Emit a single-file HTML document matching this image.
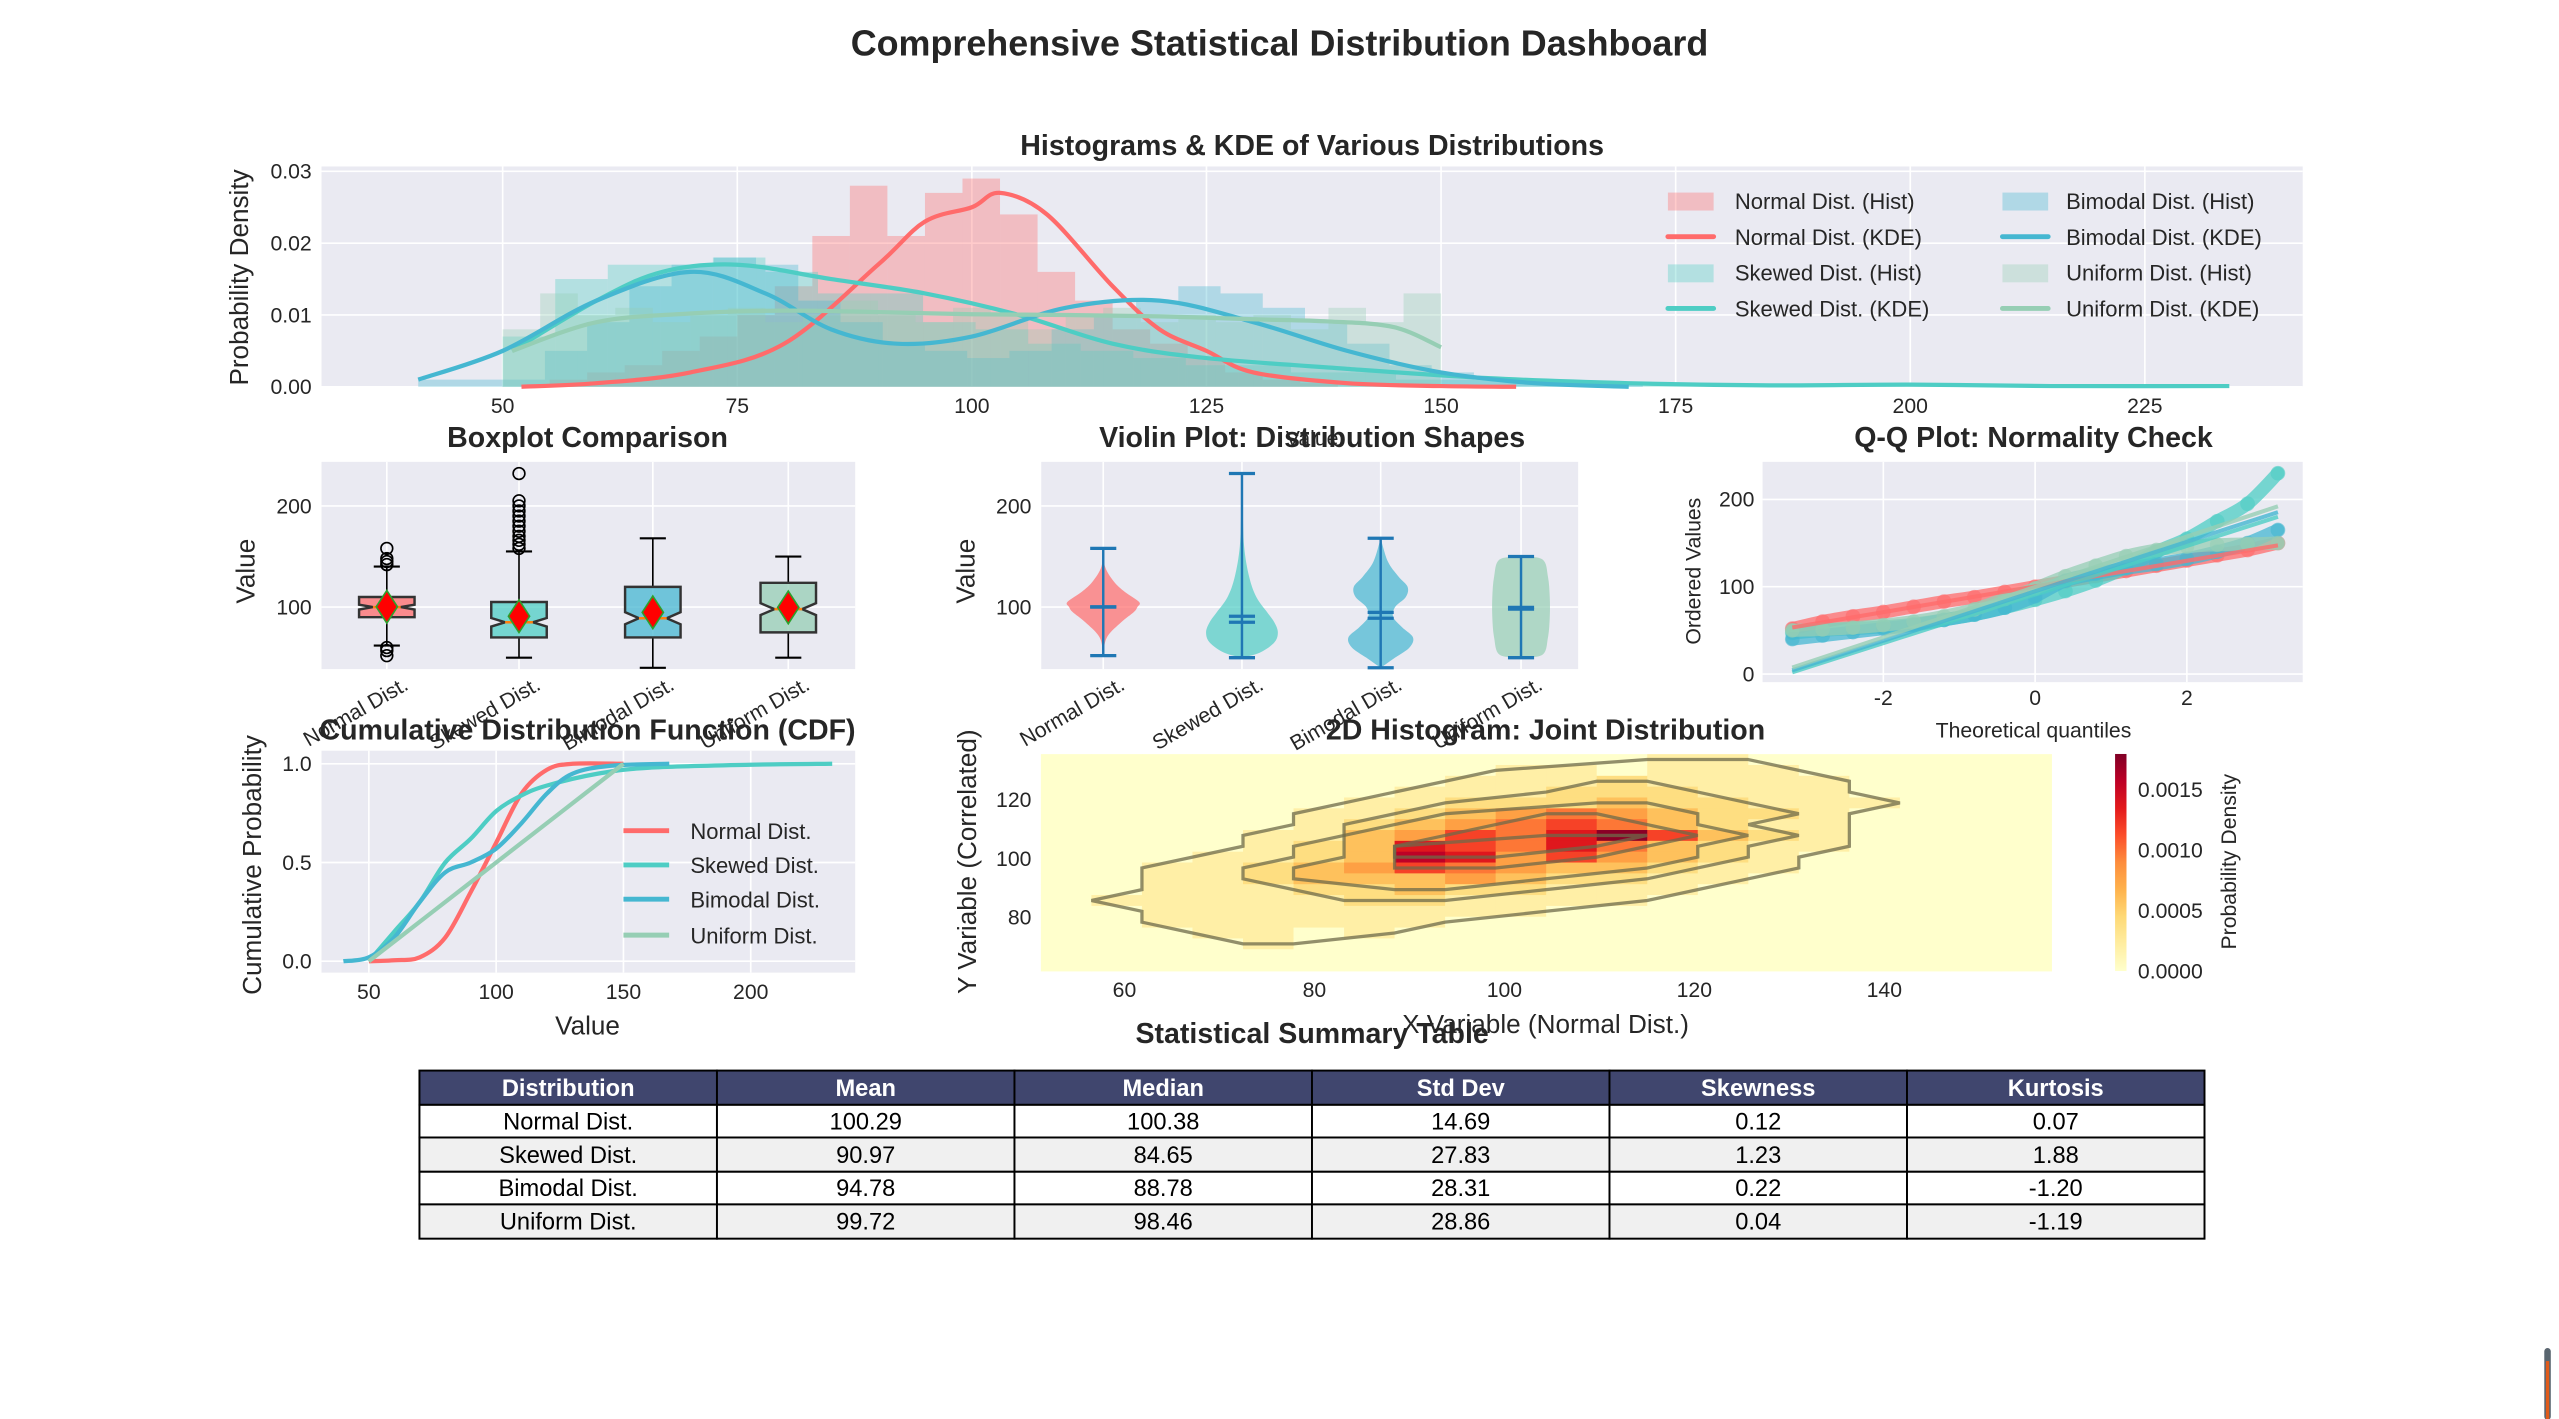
<!DOCTYPE html>
<html><head><meta charset="utf-8">
<style>
html,body{margin:0;padding:0;background:#fff;}
svg{display:block;font-family:"Liberation Sans",Arial,sans-serif;}
.t{font-size:13px;fill:#262626;}
.ti{font-size:17.5px;font-weight:bold;fill:#262626;}
.al{font-size:16px;fill:#262626;}
.lg{font-size:13.5px;fill:#262626;}
.tb{font-size:14.5px;fill:#000;}
</style></head>
<body>
<svg id="root" width="2559" height="1419" viewBox="0 0 1568 869.5" xmlns="http://www.w3.org/2000/svg">
<text x="784" y="34" text-anchor="middle" style="font-size:22px;font-weight:bold;fill:#262626">Comprehensive Statistical Distribution Dashboard</text>
<g id="g-top"></g>
<g id="g-box"></g>
<g id="g-vio"></g>
<g id="g-qq"></g>
<g id="g-cdf"></g>
<g id="g-heat"></g>
<g id="g-table"></g>
<rect x="1559" y="826" width="4" height="44" rx="2" fill="#5a6670"/>
<rect x="1560" y="834" width="2" height="36" fill="#e05a1a"/>
</svg>
<script>
// ---------- DATA ----------
const names = ["Normal Dist.","Skewed Dist.","Bimodal Dist.","Uniform Dist."];
const colors = ["#FF6B6B","#4ECDC4","#45B7D1","#96CEB4"];
const histStart = [55, 50, 41, 50];
const histWidth = [4, 5.6, 4.5, 4];
const histNormal = [0.001,0.002,0.003,0.005,0.007,0.010,0.014,0.021,0.028,0.021,0.027,0.029,0.024,0.016,0.012,0.008,0.006,0.004,0.002,0.001,0.0005];
const histSkewed = [0.007,0.015,0.017,0.017,0.018,0.016,0.013,0.013,0.009,0.008,0.006,0.005,0.004,0.003,0.003,0.002,0.002,0.001,0.001,0.0008,0.0005,0.0005,0.0003,0.0003,0.0002,0.0002,0.0001,0.0001,0.0001,0.0001,0.0001,0.0001];
const histBimodal = [0.001,0.001,0.001,0.005,0.009,0.014,0.017,0.018,0.017,0.012,0.009,0.006,0.005,0.004,0.005,0.008,0.010,0.012,0.014,0.013,0.011,0.009,0.006,0.003,0.002,0.001,0.0005,0.0005,0.0003];
const histUniform = [0.008,0.013,0.010,0.011,0.009,0.010,0.011,0.009,0.010,0.012,0.010,0.009,0.011,0.010,0.008,0.010,0.011,0.009,0.010,0.009,0.010,0.008,0.011,0.009,0.013];
const kdeNormalX = [52,60,70,80,90,95,100,103,108,115,120,125,130,140,150,158];
const kdeNormalY = [0,0.0005,0.002,0.006,0.017,0.023,0.025,0.027,0.024,0.014,0.008,0.005,0.002,0.0005,0.0001,0];
const kdeSkewedX = [51,60,67,75,85,95,105,115,125,140,155,170,185,200,215,234];
const kdeSkewedY = [0.005,0.012,0.016,0.017,0.015,0.013,0.010,0.006,0.004,0.0025,0.0012,0.0005,0.0002,0.0003,0.0001,0.0001];
const kdeBimodalX = [41,50,60,70,78,85,92,100,110,120,130,140,150,160,170];
const kdeBimodalY = [0.001,0.005,0.012,0.016,0.013,0.008,0.006,0.007,0.011,0.012,0.009,0.005,0.002,0.0005,0];
const kdeUniformX = [51,60,70,80,90,100,110,120,130,138,145,150];
const kdeUniformY = [0.005,0.009,0.0102,0.0106,0.0104,0.0101,0.0100,0.0098,0.0094,0.0091,0.0083,0.0055];
const boxLo = [62, 50, 40, 50];
const boxQ1 = [90, 70, 70, 75];
const boxMed = [100, 85, 89, 98];
const boxQ3 = [110, 105, 120, 124];
const boxHi = [140, 155, 168, 150];
const boxMean = [100.3, 91.0, 94.8, 99.7];
const outNormal = [52, 57, 60, 142, 145, 148, 158];
const outSkewed = [158,162,166,170,175,180,185,190,195,200,205,232];
const vioNormalV = [52,70,85,95,100,105,115,125,140,158];
const vioNormalW = [0,0.1,0.5,0.85,0.95,1,0.6,0.3,0.05,0];
const vioSkewedV = [50,55,65,75,85,95,110,130,160,200,232];
const vioSkewedW = [0,0.5,0.9,1,0.9,0.7,0.4,0.2,0.06,0.02,0];
const vioBimodalV = [40,50,60,70,80,90,100,110,120,130,145,168];
const vioBimodalW = [0,0.4,0.8,0.9,0.6,0.35,0.4,0.7,0.75,0.5,0.2,0];
const vioUniformV = [50,53,70,90,110,130,147,150];
const vioUniformW = [0,0.6,0.75,0.8,0.8,0.75,0.6,0];
const qqTheo = [-3.2,-2.8,-2.4,-2,-1.6,-1.2,-0.8,-0.4,0,0.4,0.8,1.2,1.6,2,2.4,2.8,3.2];
const qqNormal = [52,60,66,71,77,83,88,94,100,106,112,118,124,130,136,142,150];
const qqSkewed = [47,50,52,54,57,62,68,76,85,95,107,122,140,155,175,195,230];
const qqBimodal = [40,44,48,52,56,62,68,76,89,107,115,121,126,132,140,150,165];
const qqUniform = [50,51,53,56,60,66,74,86,98,112,124,135,142,146,148,149,150];
const cdfNormalX = [50,60,70,80,90,100,110,120,130,150];
const cdfNormalP = [0,0.005,0.02,0.12,0.35,0.6,0.85,0.97,1,1];
const cdfSkewedX = [50,60,70,80,90,100,110,120,140,160,200,232];
const cdfSkewedP = [0,0.15,0.3,0.5,0.62,0.76,0.84,0.89,0.95,0.98,0.995,1];
const cdfBimodalX = [40,50,60,70,80,90,100,110,120,130,145,168];
const cdfBimodalP = [0,0.02,0.12,0.3,0.45,0.5,0.57,0.7,0.85,0.95,0.99,1];
const cdfUniformX = [50,75,100,125,150];
const cdfUniformP = [0,0.25,0.5,0.75,1];
const heatX0 = 51.2, heatXStep = 5.32, heatY0 = 135.5, heatYStep = 3.69;
const heatMax = 0.0018;
const heatCounts = [
[0,0,0,0,0,0,0,0,0,0,0,0,1,1,0,0,0,0,0,0],
[0,0,0,0,0,0,0,0,0,1,1,0,1,1,1,0,0,0,0,0],
[0,0,0,0,0,0,0,0,1,1,1,2,1,1,1,1,0,0,0,0],
[0,0,0,0,0,0,0,1,1,1,2,2,2,1,1,1,0,0,0,0],
[0,0,0,0,0,0,1,1,2,2,2,3,2,2,1,1,1,0,0,0],
[0,0,0,0,0,1,1,2,3,4,5,4,3,2,2,1,0,0,0,0],
[0,0,0,0,0,1,2,3,4,5,6,5,3,2,1,1,0,0,0,0],
[0,0,0,0,1,1,3,4,6,5,7,9,6,3,2,1,0,0,0,0],
[0,0,0,0,1,2,3,7,6,5,7,5,3,2,1,1,0,0,0,0],
[0,0,0,1,1,2,3,8,7,4,6,4,3,2,1,0,0,0,0,0],
[0,0,1,1,2,3,4,6,5,4,3,3,2,1,1,0,0,0,0,0],
[0,0,1,1,2,3,3,3,4,3,2,2,1,1,0,0,0,0,0,0],
[0,0,1,1,1,2,2,3,2,2,1,1,1,0,0,0,0,0,0,0],
[0,1,1,1,1,1,2,2,1,1,1,1,0,0,0,0,0,0,0,0],
[0,0,1,1,1,1,1,1,1,1,0,0,0,0,0,0,0,0,0,0],
[0,0,1,1,1,1,1,1,0,0,0,0,0,0,0,0,0,0,0,0],
[0,0,0,1,1,0,1,0,0,0,0,0,0,0,0,0,0,0,0,0],
[0,0,0,0,1,0,0,0,0,0,0,0,0,0,0,0,0,0,0,0],
[0,0,0,0,0,0,0,0,0,0,0,0,0,0,0,0,0,0,0,0],
[0,0,0,0,0,0,0,0,0,0,0,0,0,0,0,0,0,0,0,0]];
const tableHeaders = ["Distribution","Mean","Median","Std Dev","Skewness","Kurtosis"];
const tMean = [100.29, 90.97, 94.78, 99.72];
const tMedian = [100.38, 84.65, 88.78, 98.46];
const tStd = [14.69, 27.83, 28.31, 28.86];
const tSkew = [0.12, 1.23, 0.22, 0.04];
const tKurt = [0.07, 1.88, -1.20, -1.19];

// ---------- HELPERS ----------
const NS = "http://www.w3.org/2000/svg";
function mk(tag, attrs, parent, txt){
  const e = document.createElementNS(NS, tag);
  for (const k in attrs) e.setAttribute(k, attrs[k]);
  if (txt !== undefined) e.textContent = txt;
  parent.appendChild(e);
  return e;
}
function smooth(pts){
  if (pts.length < 2) return "";
  let d = "M" + pts[0][0] + "," + pts[0][1];
  for (let i = 0; i < pts.length - 1; i++){
    const p0 = pts[i-1] || pts[i], p1 = pts[i], p2 = pts[i+1], p3 = pts[i+2] || p2;
    const c1x = p1[0] + (p2[0]-p0[0])/6, c1y = p1[1] + (p2[1]-p0[1])/6;
    const c2x = p2[0] - (p3[0]-p1[0])/6, c2y = p2[1] - (p3[1]-p1[1])/6;
    d += " C" + c1x + "," + c1y + " " + c2x + "," + c2y + " " + p2[0] + "," + p2[1];
  }
  return d;
}
function panelBg(g, x0, y0, x1, y1){
  const r = mk('rect',{x:x0,y:y0,width:x1-x0,height:y1-y0,fill:'#EAEAF2'},g);
  
  
}
function gridV(g, x, y0, y1){
  const l = mk('line',{x1:x,x2:x,y1:y0,y2:y1,stroke:'#fff','stroke-width':1},g);
  
  
}
function gridH(g, y, x0, x1){
  const l = mk('line',{x1:x0,x2:x1,y1:y,y2:y,stroke:'#fff','stroke-width':1},g);
  
  
}
function label(g, x, y, txt, cls, anchor, rot, name){
  const a = {x:x,y:y,'class':cls,'text-anchor':anchor||'middle'};
  if (rot) a.transform = 'rotate('+rot+' '+x+' '+y+')';
  const t = mk('text',a,g,txt);
  
  
  return t;
}

// ---------- TOP ----------
(function(){
  const g = document.getElementById('g-top');
  const X0=197,X1=1411,Y0=102,Y1=237;
  const hx = v => 308 + (v-50)*5.75;
  const hy = d => 237 - d*4400;
  panelBg(g,X0,Y0,X1,Y1);
  [50,75,100,125,150,175,200,225].forEach(v=>{ gridV(g,hx(v),Y0,Y1); label(g,hx(v),253,String(v),'t','middle',0,'x-tick-label'); });
  [0,0.01,0.02,0.03].forEach(v=>{ gridH(g,hy(v),X0,X1); label(g,191,hy(v)+4.5,v.toFixed(2),'t','end',0,'y-tick-label'); });
  const hists = [histNormal,histSkewed,histBimodal,histUniform];
  hists.forEach((arr,si)=>{
    arr.forEach((d,i)=>{
      const a = histStart[si] + i*histWidth[si];
      const r = mk('rect',{x:hx(a),y:hy(d),width:hx(a+histWidth[si])-hx(a),height:hy(0)-hy(d),fill:colors[si],'fill-opacity':0.35},g);
      
      
    });
  });
  const kx = [kdeNormalX,kdeSkewedX,kdeBimodalX,kdeUniformX];
  const ky = [kdeNormalY,kdeSkewedY,kdeBimodalY,kdeUniformY];
  kx.forEach((xs,si)=>{
    const pts = xs.map((v,i)=>[hx(v),hy(ky[si][i])]);
    const p = mk('path',{d:smooth(pts),fill:'none',stroke:colors[si],'stroke-width':2.6},g);
    
    
  });
  label(g,804,95,'Histograms & KDE of Various Distributions','ti','middle',0,'histogram-title');
  label(g,152,170,'Probability Density','al','middle',-90,'y-axis-title');
  const rows=[123,145,167,189];
  const items=[[0,'patch'],[0,'line'],[1,'patch'],[1,'line'],[2,'patch'],[2,'line'],[3,'patch'],[3,'line']];
  items.forEach((it,k)=>{
    const col = k<4?0:1, row=k%4;
    const sx = col?1227:1022, y=rows[row];
    const si=it[0];
    if(it[1]==='patch'){
      const r=mk('rect',{x:sx,y:y-5,width:28,height:11,fill:colors[si],'fill-opacity':0.35},g);
      
      
    } else {
      const l=mk('line',{x1:sx,x2:sx+28,y1:y,y2:y,stroke:colors[si],'stroke-width':3,'stroke-linecap':'round'},g);
      
      
    }
    label(g,col?1266:1063,y+5,names[si]+(it[1]==='patch'?' (Hist)':' (KDE)'),'lg','start',0,'legend-entry');
  });
})();

// ---------- BOXPLOT ----------
const by = v => 372 - (v-100)*0.62;
(function(){
  const g=document.getElementById('g-box');
  const X0=197,X1=524,Y0=283,Y1=410;
  const cx=[237,318,400,483];
  panelBg(g,X0,Y0,X1,Y1);
  cx.forEach(x=>gridV(g,x,Y0,Y1));
  [100,200].forEach(v=>{gridH(g,by(v),X0,X1);label(g,191,by(v)+4.5,String(v),'t','end',0,'y-tick-label');});
  const outs=[outNormal,outSkewed,[],[]];
  cx.forEach((x,i)=>{
    const w=17;
    const wl=mk('line',{x1:x,x2:x,y1:by(boxLo[i]),y2:by(boxQ1[i]),stroke:'#000','stroke-width':1},g);
    
    const wh=mk('line',{x1:x,x2:x,y1:by(boxQ3[i]),y2:by(boxHi[i]),stroke:'#000','stroke-width':1},g);
    
    [boxLo[i],boxHi[i]].forEach(v=>{
      const c=mk('line',{x1:x-8,x2:x+8,y1:by(v),y2:by(v),stroke:'#000','stroke-width':1.3},g);
      
    });
    const nq=(boxQ3[i]-boxQ1[i])*0.12;
    const m=boxMed[i];
    const pts=[[x-w,by(boxQ1[i])],[x-w,by(m-nq)],[x-w*0.5,by(m)],[x-w,by(m+nq)],[x-w,by(boxQ3[i])],[x+w,by(boxQ3[i])],[x+w,by(m+nq)],[x+w*0.5,by(m)],[x+w,by(m-nq)],[x+w,by(boxQ1[i])]];
    const b=mk('polygon',{points:pts.map(p=>p.join(',')).join(' '),fill:colors[i],'fill-opacity':0.75,stroke:'#333','stroke-width':1.5},g);
    
    const md=mk('line',{x1:x-w*0.5,x2:x+w*0.5,y1:by(m),y2:by(m),stroke:'#ff7f0e','stroke-width':1.5},g);
    
    outs[i].forEach(v=>{
      const o=mk('circle',{cx:x,cy:by(v),r:3.6,fill:'none',stroke:'#000','stroke-width':1},g);
      
    });
    const my=by(boxMean[i]);
    const d=mk('polygon',{points:[[x,my-10],[x+6.5,my],[x,my+10],[x-6.5,my]].map(p=>p.join(',')).join(' '),fill:'#ff0000',stroke:'#2ca02c','stroke-width':1},g);
    
    label(g,x+14,422,names[i],'t','end',-30,'x-tick-label');
  });
  label(g,360,274,'Boxplot Comparison','ti','middle',0,'boxplot-title');
  label(g,156,350,'Value','al','middle',-90,'y-axis-title');
})();

// ---------- VIOLIN ----------
(function(){
  const g=document.getElementById('g-vio');
  const X0=638,X1=967,Y0=283,Y1=410;
  const cx=[676,761,846,932];
  panelBg(g,X0,Y0,X1,Y1);
  cx.forEach(x=>gridV(g,x,Y0,Y1));
  [100,200].forEach(v=>{gridH(g,by(v),X0,X1);label(g,632,by(v)+4.5,String(v),'t','end',0,'y-tick-label');});
  const vv=[vioNormalV,vioSkewedV,vioBimodalV,vioUniformV];
  const vw=[vioNormalW,vioSkewedW,vioBimodalW,vioUniformW];
  cx.forEach((x,i)=>{
    const W=22;
    const right=vv[i].map((v,k)=>[x+vw[i][k]*W,by(v)]);
    const left=vv[i].map((v,k)=>[x-vw[i][k]*W,by(v)]).reverse();
    const d=smooth(right)+" L"+left[0][0]+","+left[0][1]+" "+smooth(left).slice(1).replace(/^[^C]*/,'')+" Z";
    const p=mk('path',{d:d,fill:colors[i],'fill-opacity':0.7,stroke:'none'},g);
    
    const lo=vv[i][0],hi=vv[i][vv[i].length-1];
    const st=mk('line',{x1:x,x2:x,y1:by(lo),y2:by(hi),stroke:'#1f77b4','stroke-width':1.5},g);
    
    [lo,hi,boxMean[i],boxMed[i]].forEach(v=>{
      const c=mk('line',{x1:x-8,x2:x+8,y1:by(v),y2:by(v),stroke:'#1f77b4','stroke-width':2},g);
      
    });
    label(g,x+14,422,names[i],'t','end',-30,'x-tick-label');
  });
  label(g,804,274,'Violin Plot: Distribution Shapes','ti','middle',0,'violin-title');
  label(g,804,273,'Value','t','middle',0,'x-axis-title');
  label(g,597,350,'Value','al','middle',-90,'y-axis-title');
})();

// ---------- QQ ----------
(function(){
  const g=document.getElementById('g-qq');
  const X0=1080,X1=1411,Y0=283,Y1=418;
  const qx=t=>1247+t*46.5, qy=v=>413-v*0.535;
  panelBg(g,X0,Y0,X1,Y1);
  [-2,0,2].forEach(t=>{gridV(g,qx(t),Y0,Y1);label(g,qx(t),432,String(t),'t','middle',0,'x-tick-label');});
  [0,100,200].forEach(v=>{gridH(g,qy(v),X0,X1);label(g,1075,qy(v)+4.5,String(v),'t','end',0,'y-tick-label');});
  const qs=[qqNormal,qqSkewed,qqBimodal,qqUniform];
  qs.forEach((arr,si)=>{
    const pts=qqTheo.map((t,k)=>[qx(t),qy(arr[k])]);
    const p=mk('path',{d:smooth(pts),fill:'none',stroke:colors[si],'stroke-width':8,'stroke-opacity':0.75,'stroke-linecap':'round'},g);
    
    pts.forEach(pt=>{
      const c=mk('circle',{cx:pt[0],cy:pt[1],r:4.5,fill:colors[si],'fill-opacity':0.6},g);
      
    });
  });
  qs.forEach((arr,si)=>{
    const t0=-3.2,t1=3.2;
    const l=mk('line',{x1:qx(t0),y1:qy(tMean[si]+tStd[si]*t0),x2:qx(t1),y2:qy(tMean[si]+tStd[si]*t1),stroke:colors[si],'stroke-width':2.5,'stroke-opacity':0.8},g);
    
  });
  label(g,1246,274,'Q-Q Plot: Normality Check','ti','middle',0,'qq-title');
  label(g,1246,452,'Theoretical quantiles','t','middle',0,'x-axis-title');
  label(g,1042,350,'Ordered Values','t','middle',-90,'y-axis-title');
})();

// ---------- CDF ----------
(function(){
  const g=document.getElementById('g-cdf');
  const X0=197,X1=524,Y0=460,Y1=596;
  const cx=v=>226+(v-50)*1.56, cy=p=>589-p*121;
  panelBg(g,X0,Y0,X1,Y1);
  [50,100,150,200].forEach(v=>{gridV(g,cx(v),Y0,Y1);label(g,cx(v),612,String(v),'t','middle',0,'x-tick-label');});
  [0,0.5,1].forEach(p=>{gridH(g,cy(p),X0,X1);label(g,191,cy(p)+4.5,p.toFixed(1),'t','end',0,'y-tick-label');});
  const xs=[cdfNormalX,cdfSkewedX,cdfBimodalX,cdfUniformX];
  const ps=[cdfNormalP,cdfSkewedP,cdfBimodalP,cdfUniformP];
  xs.forEach((arr,si)=>{
    const pts=arr.map((v,k)=>[cx(v),cy(ps[si][k])]);
    const p=mk('path',{d:smooth(pts),fill:'none',stroke:colors[si],'stroke-width':2.6},g);
    
  });
  [509,530,551,573].forEach((y,si)=>{
    const l=mk('line',{x1:382,x2:410,y1:y,y2:y,stroke:colors[si],'stroke-width':3},g);
    
    label(g,423,y+5,names[si],'lg','start',0,'legend-entry');
  });
  label(g,360,453,'Cumulative Distribution Function (CDF)','ti','middle',0,'cdf-title');
  label(g,360,634,'Value','al','middle',0,'x-axis-title');
  label(g,160,530,'Cumulative Probability','al','middle',-90,'y-axis-title');
})();

// ---------- HEATMAP ----------
(function(){
  const g=document.getElementById('g-heat');
  const X=v=>689+(v-60)*5.82, Y=v=>526-(v-100)*1.8;
  const stops=[[0,[255,255,204]],[0.125,[255,237,160]],[0.25,[254,217,118]],[0.375,[254,178,76]],[0.5,[253,141,60]],[0.625,[252,78,42]],[0.75,[227,26,28]],[0.875,[189,0,38]],[1,[128,0,38]]];
  function cmap(f){
    f=Math.max(0,Math.min(1,f));
    for(let i=0;i<stops.length-1;i++){
      if(f<=stops[i+1][0]){
        const a=stops[i],b=stops[i+1],u=(f-a[0])/(b[0]-a[0]);
        return 'rgb('+a[1].map((c,k)=>Math.round(c+(b[1][k]-c)*u)).join(',')+')';
      }
    }
    return 'rgb(128,0,38)';
  }
  heatCounts.forEach((row,ri)=>{
    row.forEach((c,ci)=>{
      const x0=heatX0+ci*heatXStep, y0=heatY0-ri*heatYStep;
      const dens=c/9*heatMax*0.98;
      const r=mk('rect',{x:X(x0),y:Y(y0),width:X(x0+heatXStep)-X(x0)+0.3,height:Y(y0-heatYStep)-Y(y0)+0.3,fill:cmap(dens/heatMax)},g);
      
    });
  });
  [0.5,1.5,2.5,4.5,6].forEach(lv=>{
    const pts=[];
    heatCounts.forEach((row,ri)=>{
      let first=-1,last=-1;
      row.forEach((c,ci)=>{ if(c>lv){ if(first<0) first=ci; last=ci; } });
      if(first>=0) pts.push([ri,first,last]);
    });
    if(!pts.length) return;
    const rightSide=pts.map(p=>[X(heatX0+(p[2]+1)*heatXStep),Y(heatY0-(p[0]+0.5)*heatYStep)]);
    const leftSide=pts.map(p=>[X(heatX0+p[1]*heatXStep),Y(heatY0-(p[0]+0.5)*heatYStep)]).reverse();
    const all=rightSide.concat(leftSide);
    const pg=mk('polygon',{points:all.map(p=>p.join(',')).join(' '),fill:'none',stroke:'#6e6a4a','stroke-width':2,'stroke-opacity':0.75},g);
    
  });
  [60,80,100,120,140].forEach(v=>label(g,X(v),611,String(v),'t','middle',0,'x-tick-label'));
  [80,100,120].forEach(v=>label(g,632,Y(v)+4.5,String(v),'t','end',0,'y-tick-label'));
  const defs=mk('defs',{},g);
  const lg=mk('linearGradient',{id:'cbg',x1:0,y1:1,x2:0,y2:0},defs);
  stops.forEach(s=>mk('stop',{offset:s[0],'stop-color':'rgb('+s[1].join(',')+')'},lg));
  const cb=mk('rect',{x:1296,y:462,width:7,height:133,fill:'url(#cbg)'},g);
  
  const cby=v=>595-v*74000;
  [0,0.0005,0.001,0.0015].forEach(v=>label(g,1310,cby(v)+4.5,v.toFixed(4),'t','start',0,'colorbar-tick-label'));
  label(g,1370,528,'Probability Density','t','middle',-90,'colorbar-title');
  label(g,947,453,'2D Histogram: Joint Distribution','ti','middle',0,'heatmap-title');
  label(g,947,633,'X Variable (Normal Dist.)','al','middle',0,'x-axis-title');
  label(g,598,528,'Y Variable (Correlated)','al','middle',-90,'y-axis-title');
})();

// ---------- TABLE ----------
(function(){
  const g=document.getElementById('g-table');
  const x0=257, cw=182.3, rowY=[656,677,697,718,738,759];
  label(g,804,639,'Statistical Summary Table','ti','middle',0,'table-title');
  const rows=names.map((n,i)=>[n,tMean[i].toFixed(2),tMedian[i].toFixed(2),tStd[i].toFixed(2),tSkew[i].toFixed(2),tKurt[i].toFixed(2)]);
  for(let r=0;r<5;r++){
    for(let c=0;c<6;c++){
      const fill = r===0?'#40466e':(r%2===0?'#f0f0f0':'#ffffff');
      const rc=mk('rect',{x:x0+c*cw,y:rowY[r],width:cw,height:rowY[r+1]-rowY[r],fill:fill,stroke:'#000','stroke-width':1.2},g);
      
      
      const txt = r===0?tableHeaders[c]:rows[r-1][c];
      const t=mk('text',{x:x0+c*cw+cw/2,y:(rowY[r]+rowY[r+1])/2+5,'text-anchor':'middle','class':'tb',style:r===0?'fill:#fff;font-weight:bold':''},g,txt);
      
      
    }
  }
})();
</script>
</body></html>
